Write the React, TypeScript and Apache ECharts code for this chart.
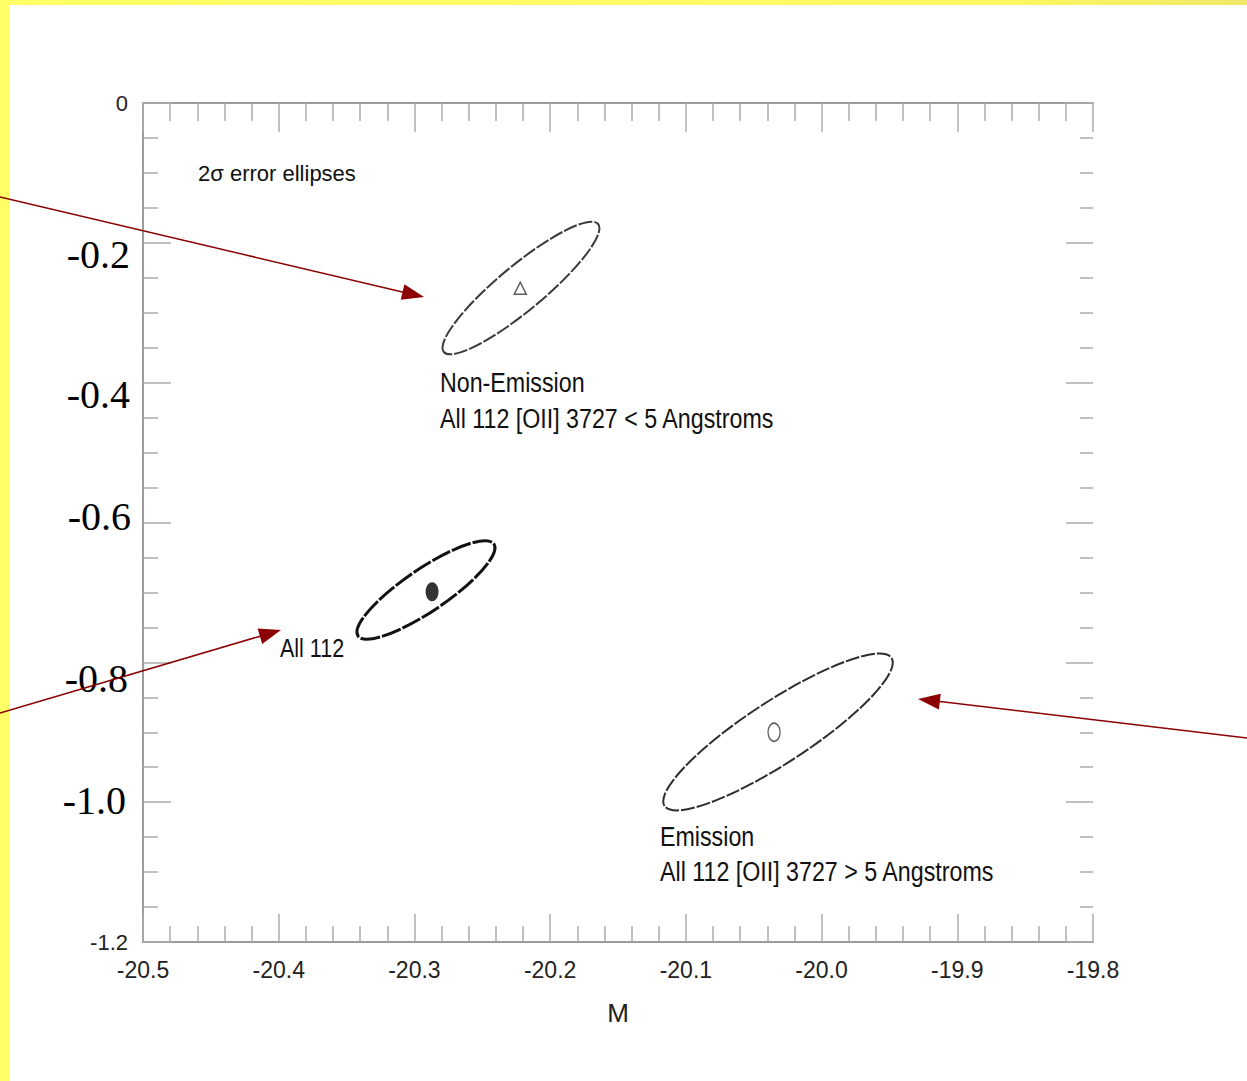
import React, { useEffect, useRef } from "react";
import * as echarts from "echarts";

// ---- axis ticks / labels ----
const xTickValues = [-20.5, -20.4, -20.3, -20.2, -20.1, -20.0, -19.9, -19.8];
const xTickLabels = ["-20.5", "-20.4", "-20.3", "-20.2", "-20.1", "-20.0", "-19.9", "-19.8"];
const yEdgeValues = [0, -1.2];
const yEdgeLabels = ["0", "-1.2"];
const yOverlayValues = [-0.2, -0.4, -0.6, -0.8, -1.0];
const yOverlayLabels = ["-0.2", "-0.4", "-0.6", "-0.8", "-1.0"];

// ---- error ellipses (centre, end of major axis, minor/major ratio) ----
const ellipseNames = ["Non-Emission", "All 112", "Emission"];
const ellipseCenterX = [-20.2215, -20.2915, -20.0321];
const ellipseCenterY = [-0.2646, -0.6965, -0.8996];
const ellipseTipX = [-20.1647, -20.2414, -19.9485];
const ellipseTipY = [-0.1731, -0.6307, -0.7938];
const ellipseRatio = [0.225, 0.26, 0.23];

// ---- centre markers ----
const markerX = [-20.222, -20.287, -20.035];
const markerY = [-0.265, -0.699, -0.9];

// ---- styles (kept apart from data) ----
const ellipseStyles = [
  { stroke: "#3a3a3a", lineWidth: 2, lineDash: [14, 2] },
  { stroke: "#111", lineWidth: 3, lineDash: [20, 2] },
  { stroke: "#2e2e2e", lineWidth: 2, lineDash: [14, 2] },
];
const SANS = "'Liberation Sans', Arial, sans-serif";
const SERIF = "'Liberation Serif', 'Times New Roman', serif";
const AXIS_GRAY = "#9c9c9c";
const TICK_GRAY = "#ababab";
const ARROW_RED = "#8b0000";

const overlayRight = [130, 130, 131, 128, 126];
const overlayShift = [12, 12, -6, 16, -2];

const annotations = [
  { text: "2σ error ellipses", x: 198, y: 173, size: 22, sx: 1 },
  { text: "Non-Emission", x: 440, y: 382, size: 28, sx: 0.83 },
  { text: "All 112 [OII] 3727 < 5 Angstroms", x: 440, y: 418, size: 28, sx: 0.83 },
  { text: "All 112", x: 280, y: 648, size: 25, sx: 0.86 },
  { text: "Emission", x: 660, y: 836, size: 28, sx: 0.83 },
  { text: "All 112 [OII] 3727 > 5 Angstroms", x: 660, y: 871, size: 28, sx: 0.83 },
];

const arrows = [
  { from: [0, 197], to: [424, 297] },
  { from: [0, 713], to: [281, 630] },
  { from: [1247, 738], to: [918, 699] },
];

function near(a: number, b: number) {
  return Math.abs(a - b) < 1e-6;
}

function arrowElements() {
  const els: any[] = [];
  arrows.forEach((a, i) => {
    const dx = a.to[0] - a.from[0];
    const dy = a.to[1] - a.from[1];
    const len = Math.hypot(dx, dy);
    const ux = dx / len;
    const uy = dy / len;
    const hl = 22;
    const hw = 8;
    const bx = a.to[0] - ux * hl;
    const by = a.to[1] - uy * hl;
    els.push({
      type: "line",
      id: "arrowline" + i,
      z: 100,
      shape: { x1: a.from[0], y1: a.from[1], x2: bx + ux * 2, y2: by + uy * 2 },
      style: { stroke: ARROW_RED, lineWidth: 1.5 },
    });
    els.push({
      type: "polygon",
      id: "arrowhead" + i,
      z: 100,
      shape: {
        points: [
          [a.to[0], a.to[1]],
          [bx - uy * hw, by + ux * hw],
          [bx + uy * hw, by - ux * hw],
        ],
      },
      style: { fill: ARROW_RED },
    });
  });
  return els;
}

const App: React.FC = () => {
  const ref = useRef<HTMLDivElement>(null);

  useEffect(() => {
    if (!ref.current) return;
    const chart = echarts.init(ref.current, undefined, { renderer: "svg" });

    const ellipseData = ellipseNames.map((n, i) => ({
      name: n,
      value: [ellipseCenterX[i], ellipseCenterY[i], ellipseTipX[i], ellipseTipY[i], ellipseRatio[i], i],
    }));

    const baseX = {
      type: "value" as const,
      min: -20.5,
      max: -19.8,
      interval: 0.1,
      splitLine: { show: false },
      axisLine: { show: true, onZero: false, lineStyle: { color: AXIS_GRAY, width: 2 } },
    };
    const baseY = {
      type: "value" as const,
      min: -1.2,
      max: 0,
      interval: 0.2,
      splitLine: { show: false },
    };

    const option: any = {
      animation: false,
      backgroundColor: "#ffffff",
      grid: { left: 143, right: 154, top: 103, bottom: 139, show: false },
      xAxis: [
        {
          ...baseX,
          position: "bottom",
          name: "M",
          nameLocation: "middle",
          nameGap: 58,
          nameTextStyle: { fontFamily: SANS, fontSize: 26, color: "#222" },
          axisTick: { show: true, inside: true, length: 28, lineStyle: { color: TICK_GRAY, width: 1.5 } },
          minorTick: { show: true, splitNumber: 5, length: 16, lineStyle: { color: TICK_GRAY, width: 1.5 } },
          axisLabel: {
            show: true,
            margin: 16,
            fontFamily: SANS,
            fontSize: 23,
            color: "#222",
            formatter: (v: number) => {
              const idx = xTickValues.findIndex((t) => near(t, v));
              return idx >= 0 ? xTickLabels[idx] : "";
            },
          },
        },
        {
          ...baseX,
          position: "top",
          axisTick: { show: true, inside: true, length: 29, lineStyle: { color: TICK_GRAY, width: 1.5 } },
          minorTick: { show: true, splitNumber: 5, length: 18, lineStyle: { color: TICK_GRAY, width: 1.5 } },
          axisLabel: { show: false },
        },
      ],
      yAxis: [
        {
          ...baseY,
          position: "left",
          axisLine: { show: true, onZero: false, lineStyle: { color: AXIS_GRAY, width: 2 } },
          axisTick: { show: true, inside: true, length: 28, lineStyle: { color: TICK_GRAY, width: 1.5 } },
          minorTick: { show: true, splitNumber: 4, length: 15, lineStyle: { color: TICK_GRAY, width: 1.5 } },
          axisLabel: {
            show: true,
            margin: 15,
            fontFamily: SANS,
            fontSize: 22,
            color: "#222",
            formatter: (v: number) => {
              const idx = yEdgeValues.findIndex((t) => near(t, v));
              return idx >= 0 ? yEdgeLabels[idx] : "";
            },
          },
        },
        {
          ...baseY,
          position: "right",
          axisLine: { show: false, onZero: false, lineStyle: { color: "rgba(0,0,0,0)", width: 0 } },
          axisTick: { show: true, inside: true, length: 27, lineStyle: { color: TICK_GRAY, width: 1.5 } },
          minorTick: { show: true, splitNumber: 4, length: 13, lineStyle: { color: TICK_GRAY, width: 1.5 } },
          axisLabel: { show: false },
        },
      ],
      series: [
        {
          type: "custom",
          name: "ellipses",
          xAxisIndex: 0,
          yAxisIndex: 0,
          silent: true,
          encode: { x: [0, 2], y: [1, 3] },
          data: ellipseData,
          renderItem: (params: any, api: any) => {
            const c = api.coord([api.value(0), api.value(1)]);
            const t = api.coord([api.value(2), api.value(3)]);
            const dx = t[0] - c[0];
            const dy = t[1] - c[1];
            const a = Math.hypot(dx, dy);
            const ang = Math.atan2(dy, dx);
            const st = ellipseStyles[api.value(5)];
            return {
              type: "ellipse",
              x: c[0],
              y: c[1],
              rotation: -ang,
              shape: { cx: 0, cy: 0, rx: a, ry: a * api.value(4) },
              style: { fill: "none", stroke: st.stroke, lineWidth: st.lineWidth, lineDash: st.lineDash },
            };
          },
        },
        {
          type: "scatter",
          name: "Non-Emission centre",
          silent: true,
          symbol: "triangle",
          symbolSize: 12,
          itemStyle: { color: "#fff", borderColor: "#333", borderWidth: 1.5 },
          data: [[markerX[0], markerY[0]]],
        },
        {
          type: "scatter",
          name: "All 112 centre",
          silent: true,
          symbol: "circle",
          symbolSize: [13, 19],
          itemStyle: { color: "#000" },
          data: [[markerX[1], markerY[1]]],
        },
        {
          type: "scatter",
          name: "Emission centre",
          silent: true,
          symbol: "circle",
          symbolSize: [12, 18],
          itemStyle: { color: "#fff", borderColor: "#333", borderWidth: 1.5 },
          data: [[markerX[2], markerY[2]]],
        },
      ],
      graphic: {
        elements: [
          {
            type: "rect",
            id: "yellowTop",
            z: 90,
            shape: { x: 0, y: 0, width: 1247, height: 5 },
            style: {
              fill: new echarts.graphic.LinearGradient(0, 0, 1, 0, [
                { offset: 0, color: "#ffff66" },
                { offset: 0.8, color: "#fdf863" },
                { offset: 1, color: "#efe868" },
              ]),
            },
          },
          {
            type: "rect",
            id: "yellowLeft",
            z: 90,
            shape: { x: 0, y: 0, width: 10, height: 1081 },
            style: { fill: "#ffff66" },
          },
          ...annotations.map((t, i) => ({
            type: "text",
            id: "ann" + i,
            z: 80,
            x: t.x,
            y: t.y,
            scaleX: t.sx,
            style: {
              text: t.text,
              fontSize: t.size,
              fontFamily: SANS,
              fill: "#111",
              align: "left",
              verticalAlign: "middle",
              textAlign: "left",
              textVerticalAlign: "middle",
            },
          })),
          ...arrowElements(),
        ],
      },
    };

    chart.setOption(option);

    const overlay = yOverlayValues.map((v, i) => {
      const py = chart.convertToPixel({ yAxisIndex: 0 }, v) as number;
      return {
        type: "text",
        id: "yov" + i,
        z: 85,
        x: overlayRight[i],
        y: py + overlayShift[i],
        style: {
          text: yOverlayLabels[i],
          fontSize: 40,
          fontFamily: SERIF,
          fill: "#000",
          align: "right",
          verticalAlign: "middle",
          textAlign: "right",
          textVerticalAlign: "middle",
        },
      };
    });
    chart.setOption({ graphic: { elements: overlay } });

    return () => chart.dispose();
  }, []);

  return (
    <div
      ref={ref}
      style={{ position: "fixed", left: 0, top: 0, width: 1247, height: 1081, background: "#fff" }}
    />
  );
};

export default App;
